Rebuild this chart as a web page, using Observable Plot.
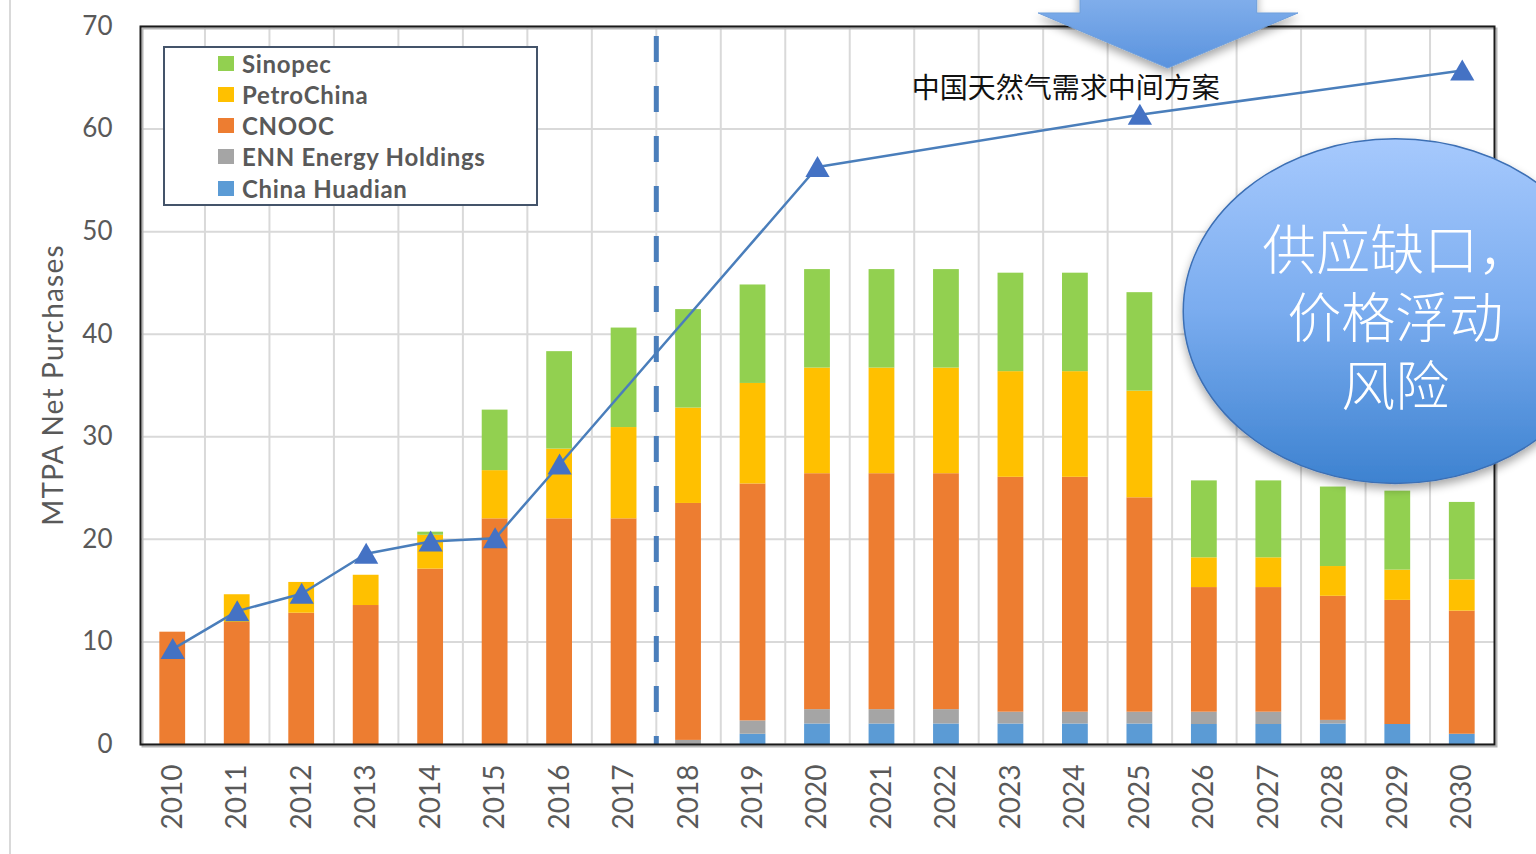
<!DOCTYPE html>
<html><head><meta charset="utf-8">
<script src="https://cdn.jsdelivr.net/npm/d3@7"></script>
<script src="https://cdn.jsdelivr.net/npm/@observablehq/plot@0.6"></script>
<style>
html,body{margin:0;padding:0;background:#fff;}
#wrap{position:relative;width:1536px;height:854px;overflow:hidden;font-family:Lato,"Open Sans",sans-serif;}
#wrap svg{position:absolute;left:0;top:0;}
#edge{position:absolute;left:9px;top:0;width:2px;height:854px;background:#d9d9d9;}
#legend{position:absolute;left:163px;top:46px;width:371px;height:156px;border:2px solid #44546a;background:#fff;}
.item{position:absolute;left:53px;height:30px;display:flex;align-items:center;font-weight:700;font-size:24px;letter-spacing:0.7px;color:#595959;white-space:nowrap;}
.sw{width:16px;height:15px;margin-right:8px;flex:none;}
</style></head>
<body><div id="wrap"><div id="edge"></div></div>
<script>
// ---- data ----
const years = [2010,2011,2012,2013,2014,2015,2016,2017,2018,2019,2020,2021,2022,2023,2024,2025,2026,2027,2028,2029,2030];
const companies = ["China Huadian","ENN Energy Holdings","CNOOC","PetroChina","Sinopec"];
const companyColors = ["#5b9bd5","#a5a5a5","#ed7d31","#ffc000","#92d050"];
const huadian    = [0,0,0,0,0,0,0,0,0,1.0,2.0,2.0,2.0,2.0,2.0,2.0,1.95,1.95,2.0,1.95,1.0];
const enn        = [0,0,0,0,0,0,0,0,0.4,1.3,1.4,1.4,1.4,1.15,1.15,1.15,1.2,1.2,0.35,0,0];
const cnooc      = [10.95,11.9,12.8,13.55,17.1,22.0,22.0,22.0,23.1,23.1,23.0,23.0,23.0,22.9,22.9,20.9,12.15,12.15,12.1,12.1,12.0];
const petrochina = [0,2.7,3.0,2.95,3.3,4.7,6.8,8.9,9.3,9.8,10.3,10.3,10.3,10.3,10.3,10.4,2.9,2.9,2.9,2.95,3.05];
const sinopec    = [0,0,0,0,0.3,5.9,9.5,9.7,9.6,9.6,9.6,9.6,9.6,9.6,9.6,9.6,7.5,7.5,7.75,7.7,7.55];
const demandYears = [2010,2011,2012,2013,2014,2015,2016,2020,2025,2030];
const demand      = [9.3,13.0,14.7,18.6,19.8,20.1,27.3,56.3,61.4,65.7];
const yTicks = [0,10,20,30,40,50,60,70];
const legendOrder = ["Sinopec","PetroChina","CNOOC","ENN Energy Holdings","China Huadian"];
const yLabel = "MTPA Net Purchases";
const scenarioLabel = "中国天然气需求中间方案";
const riskLabel = ["供应缺口，","价格浮动","风险"];
const dividerYear = 2017.5;

// ---- build stacked segments ----
const series = [huadian, enn, cnooc, petrochina, sinopec];
const segs = [];
years.forEach((yr, i) => {
  let acc = 0;
  series.forEach((s, k) => {
    const v = s[i];
    if (v > 0) segs.push({year: yr, company: companies[k], y1: acc, y2: acc + v});
    acc += v;
  });
});
const demandRows = demandYears.map((y, i) => ({year: y, value: demand[i]}));

const chart = Plot.plot({
  width: 1536, height: 854,
  marginLeft: 140, marginRight: 42, marginTop: 26, marginBottom: 110,
  style: {fontFamily: "Lato, 'Open Sans', sans-serif", background: "transparent"},
  x: {type: "linear", domain: [2009.5, 2030.5]},
  y: {domain: [0, 70]},
  color: {domain: companies, range: companyColors},
  marks: [
    Plot.gridY(yTicks, {stroke: "#d9d9d9", strokeOpacity: 1, strokeWidth: 2}),
    Plot.gridX(years.slice(0, -1).map(y => y + 0.5), {stroke: "#d9d9d9", strokeOpacity: 1, strokeWidth: 2}),
    Plot.rect(segs, {x1: d => d.year - 0.2, x2: d => d.year + 0.2, y1: "y1", y2: "y2", fill: "company"}),
    Plot.ruleX([{x: dividerYear, top: 70, bottom: 0}], {x: "x", y1: "top", y2: "bottom", stroke: "#4a7ebb", strokeWidth: 5, strokeDasharray: "26,24", strokeDashoffset: 40}),
    Plot.line(demandRows, {x: "year", y: "value", stroke: "#4a7ebb", strokeWidth: 2.5}),
    Plot.dot(demandRows, {x: "year", y: "value", symbol: "triangle", r: 9, fill: "#4472c4", stroke: null, dy: 3}),
    Plot.frame({stroke: "#b5b5b5", strokeWidth: 2, dx: 2, dy: 2}),
    Plot.frame({stroke: "#1a1a1a", strokeWidth: 2}),
    Plot.axisX({ticks: years, tickFormat: d => String(d), tickRotate: -90, tickSize: 0, tickPadding: 20, fontSize: 28, fill: "#595959", label: null}),
    Plot.axisY({ticks: yTicks, tickSize: 0, tickPadding: 28, fontSize: 26, fill: "#595959", label: null})
  ]
});
document.getElementById("wrap").appendChild(chart);

// ---- annotations (positioned through the chart's scales) ----
const sx = chart.scale("x"), sy = chart.scale("y");
const X = v => sx.apply(v), Y = v => sy.apply(v);
const svg = d3.select(chart);
const defs = svg.append("defs");
const ag = defs.append("linearGradient").attr("id", "arrowGrad").attr("x1", 0).attr("y1", 0).attr("x2", 0).attr("y2", 1);
ag.append("stop").attr("offset", "0%").attr("stop-color", "#a9cbf9");
ag.append("stop").attr("offset", "100%").attr("stop-color", "#5a93de");
const bg = defs.append("linearGradient").attr("id", "bubbleGrad").attr("x1", 0).attr("y1", 0).attr("x2", 0).attr("y2", 1);
bg.append("stop").attr("offset", "0%").attr("stop-color", "#a6c9fd");
bg.append("stop").attr("offset", "50%").attr("stop-color", "#7aacef");
bg.append("stop").attr("offset", "100%").attr("stop-color", "#3d82d0");
const sh = defs.append("filter").attr("id", "shadow").attr("x", "-20%").attr("y", "-20%").attr("width", "140%").attr("height", "150%");
sh.append("feGaussianBlur").attr("in", "SourceAlpha").attr("stdDeviation", 5);
sh.append("feOffset").attr("dx", 0).attr("dy", 5).attr("result", "b");
const ct = sh.append("feComponentTransfer"); ct.append("feFuncA").attr("type", "linear").attr("slope", 0.35);
const fm = sh.append("feMerge"); fm.append("feMergeNode"); fm.append("feMergeNode").attr("in", "SourceGraphic");

// y axis title
const yMid = (Y(0) + Y(70)) / 2;
svg.append("text").attr("transform", `translate(63,${yMid}) rotate(-90)`)
  .attr("text-anchor", "middle").attr("font-size", 28).attr("letter-spacing", 1.2)
  .attr("fill", "#595959").text(yLabel);

// scenario label
svg.append("text").attr("x", X(2021.47)).attr("y", Y(63.0)).attr("text-anchor", "start")
  .attr("font-family", "'Noto Sans CJK SC', sans-serif").attr("font-size", 28).attr("fill", "#111")
  .text(scenarioLabel);

// down arrow
const arrowPts = [[2024.08, 80], [2026.82, 80], [2026.82, 71.27], [2027.46, 71.27], [2025.44, 65.9], [2023.43, 71.27], [2024.08, 71.27]];
svg.append("polygon").attr("points", arrowPts.map(p => X(p[0]) + "," + Y(p[1])).join(" "))
  .attr("fill", "url(#arrowGrad)").attr("stroke", "#6f9fdc").attr("stroke-width", 1).attr("filter", "url(#shadow)");

// bubble
const bcx = 2028.97, bcy = 42.2;
svg.append("ellipse").attr("cx", X(bcx)).attr("cy", Y(bcy))
  .attr("rx", X(bcx + 3.29) - X(bcx)).attr("ry", Y(bcy) - Y(bcy + 16.8))
  .attr("fill", "url(#bubbleGrad)").attr("stroke", "#3c6fb4").attr("stroke-width", 1.5).attr("filter", "url(#shadow)");
const bl = [46.2, 39.6, 32.95];
const bt = svg.append("text").attr("text-anchor", "middle").attr("font-family", "'Noto Sans CJK SC', sans-serif")
  .attr("font-weight", 300).attr("font-size", 54).attr("fill", "#fff");
riskLabel.forEach((t, i) => {
  bt.append("tspan").attr("x", X(bcx) + (i === 0 ? 2 : 0)).attr("y", Y(bl[i])).text(t);
});

// legend
const lg = d3.select("#wrap").append("div").attr("id", "legend");
legendOrder.forEach((name, i) => {
  const it = lg.append("div").attr("class", "item").style("top", (i * 31.3) + "px");
  it.append("div").attr("class", "sw").style("background", companyColors[companies.indexOf(name)]);
  it.append("span").text(name);
});
</script>
</body></html>
